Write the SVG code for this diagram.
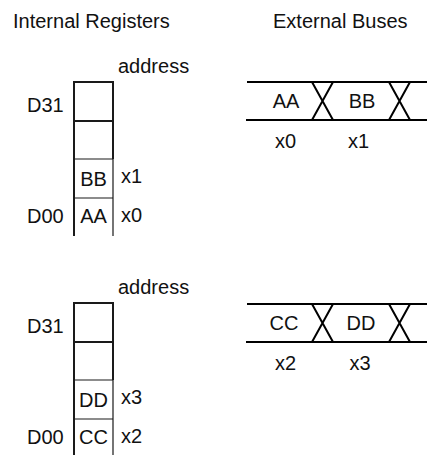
<svg xmlns="http://www.w3.org/2000/svg" width="427" height="455" viewBox="0 0 427 455">
<style>
text{font-family:"Liberation Sans",Arial,sans-serif;font-size:20px;fill:#111}
.m{text-anchor:middle}
.thick{stroke:#1a1a1a;stroke-width:2;fill:none}
.thin{stroke:#1a1a1a;stroke-width:1.2;fill:none}
.bus{stroke:#000;stroke-width:2;fill:none}
</style>
<rect width="427" height="455" fill="#fff"/>
<text x="13" y="28">Internal Registers</text>
<text x="273" y="28">External Buses</text>

<g id="reg1">
  <text x="118" y="73">address</text>
  <text x="27" y="112">D31</text>
  <text x="27" y="223">D00</text>
  <path class="thick" d="M74,236 V82 H113 V159 M74,121 H113"/>
  <path class="thin" d="M113,159 V236 M74,159 H113 M74,198 H113"/>
  <text class="m" x="93.5" y="186">BB</text>
  <text class="m" x="93.5" y="223">AA</text>
  <text x="121" y="183">x1</text>
  <text x="121" y="222">x0</text>
</g>

<g id="reg2" transform="translate(0,221)">
  <text x="118" y="73">address</text>
  <text x="27" y="112">D31</text>
  <text x="27" y="223">D00</text>
  <path class="thick" d="M74,240 V82 H113 V159 M74,121 H113"/>
  <path class="thin" d="M113,159 V240 M74,159 H113 M74,198 H113"/>
  <text class="m" x="93.5" y="186">DD</text>
  <text class="m" x="93.5" y="223">CC</text>
  <text x="121" y="183">x3</text>
  <text x="121" y="222">x2</text>
</g>

<g id="bus1">
  <path class="bus" d="M247,82 H427 M246,120 H427 M312,82 L333,120 M333,82 L312,120 M389,82 L410,120 M410,82 L389,120"/>
  <text class="m" x="286" y="108">AA</text>
  <text class="m" x="362" y="108">BB</text>
  <text class="m" x="285.5" y="148">x0</text>
  <text class="m" x="358.5" y="148">x1</text>
</g>

<g id="bus2" transform="translate(0,222)">
  <path class="bus" d="M247,82 H427 M246,120 H427 M312,82 L333,120 M333,82 L312,120 M389,82 L410,120 M410,82 L389,120"/>
  <text class="m" x="284" y="108">CC</text>
  <text class="m" x="361" y="108">DD</text>
  <text class="m" x="285.5" y="148">x2</text>
  <text class="m" x="360" y="148">x3</text>
</g>
<g id="connectors"/>
</svg>
